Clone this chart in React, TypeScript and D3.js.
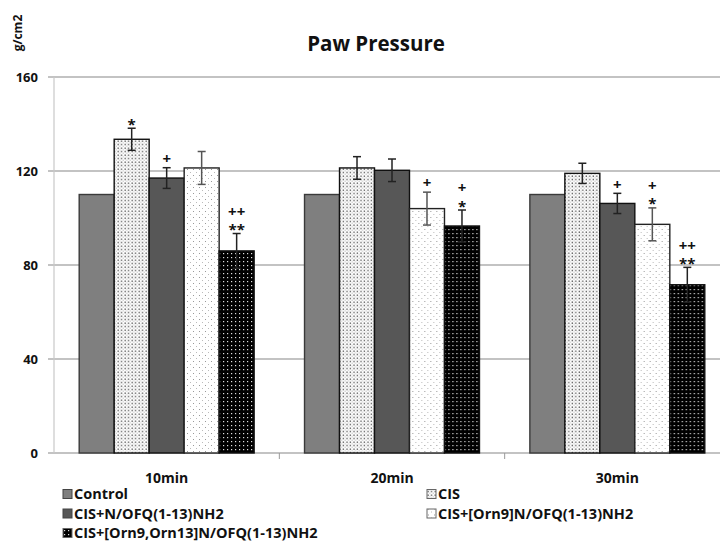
import * as d3 from "d3";

const W = 720;
const H = 541;

const categories = ["10min", "20min", "30min"];
const series = [
  "Control",
  "CIS",
  "CIS+N/OFQ(1-13)NH2",
  "CIS+[Orn9]N/OFQ(1-13)NH2",
  "CIS+[Orn9,Orn13]N/OFQ(1-13)NH2",
];
// values[series][category]
const values = [
  [110, 110, 110],
  [133.5, 121.3, 119],
  [117, 120.3, 106.2],
  [121.3, 104, 97.3],
  [86, 96.6, 71.6],
];
const errors = [
  [0, 0, 0],
  [4.7, 4.8, 4.3],
  [4.4, 4.8, 4.3],
  [7, 7, 7],
  [7.4, 6.8, 7.4],
];
// significance marks, top line first
const marks = [
  [[], [], []],
  [["*"], [], []],
  [["+"], [], ["+"]],
  [[], ["+"], ["+", "*"]],
  [["++", "**"], ["+", "*"], ["++", "**"]],
];
const yTicks = [0, 40, 80, 120, 160];

const FILLS = [
  "#7f7f7f",
  "url(#patCis)",
  "#575757",
  "url(#patOrn9)",
  "url(#patOrn913)",
];
const STROKES = ["#3a3a3a", "#111", "#111", "#222", "#111"];
const FONT = "'Open Sans', 'Liberation Sans', sans-serif";

export default function App() {
  const x0 = d3.scaleBand<string>().domain(categories).range([54, 730]);
  const x1 = d3
    .scaleBand<string>()
    .domain(series)
    .range([0, x0.bandwidth()])
    .paddingInner(0)
    .paddingOuter(0.72);
  const y = d3.scaleLinear().domain([0, 160]).range([453, 77]);

  return (
    <svg
      width={W}
      height={H}
      style={{ position: "absolute", left: 0, top: 0, background: "#fff" }}
    >
      <defs>
        <pattern id="patCis" width="3.5" height="3.5" patternUnits="userSpaceOnUse">
          <rect width="3.5" height="3.5" fill="#fff" />
          <rect x="0.5" y="0.5" width="1.3" height="1.3" fill="#444" />
          <rect x="2.3" y="2.3" width="0.9" height="0.9" fill="#999" />
        </pattern>
        <pattern id="patOrn9" width="6" height="6" patternUnits="userSpaceOnUse">
          <rect width="6" height="6" fill="#fff" />
          <rect x="1" y="1" width="1" height="1" fill="#999" />
          <rect x="4" y="4" width="1" height="1" fill="#bbb" />
        </pattern>
        <pattern id="patOrn913" width="4" height="4" patternUnits="userSpaceOnUse">
          <rect width="4" height="4" fill="#000" />
          <rect x="1" y="1" width="1.2" height="1.2" fill="#ddd" />
        </pattern>
      </defs>

      {/* title + y unit */}
      <text
        x={376}
        y={51}
        textAnchor="middle"
        fontFamily={FONT}
        fontWeight="bold"
        fontSize={20.5}
        fill="#111"
      >
        Paw Pressure
      </text>
      <text
        transform="translate(22,33) rotate(-90)"
        textAnchor="middle"
        fontFamily={FONT}
        fontWeight="bold"
        fontSize={12}
        fill="#111"
      >
        g/cm2
      </text>

      {/* gridlines */}
      {yTicks.map((t) => (
        <g key={t}>
          <line x1={48} x2={W} y1={y(t)} y2={y(t)} stroke="#888" strokeWidth={1.2} />
          <text
            x={38}
            y={y(t)}
            dy="0.35em"
            textAnchor="end"
            fontFamily={FONT}
            fontWeight="bold"
            fontSize={13}
            fill="#111"
          >
            {t}
          </text>
        </g>
      ))}
      <line x1={54} x2={54} y1={y(160)} y2={y(0)} stroke="#c8c8c8" strokeWidth={1.2} />
      {categories.slice(1).map((c) => (
        <line
          key={c}
          x1={x0(c)}
          x2={x0(c)}
          y1={y(0)}
          y2={y(0) + 6}
          stroke="#999"
        />
      ))}

      {/* bars */}
      {categories.map((c, ci) => (
        <g key={c} transform={`translate(${x0(c)},0)`}>
          {series.map((s, si) => {
            const v = values[si][ci];
            const e = errors[si][ci];
            const bx = x1(s) ?? 0;
            const bw = x1.bandwidth();
            const cx = bx + bw / 2;
            const top = e > 0 ? y(v + e) : y(v);
            const ms = marks[si][ci];
            return (
              <g key={s}>
                <rect
                  x={bx}
                  y={y(v)}
                  width={bw}
                  height={y(0) - y(v)}
                  fill={FILLS[si]}
                  stroke={STROKES[si]}
                  strokeWidth={1.4}
                />
                {e > 0 && (
                  <g stroke={si === 3 ? "#555" : "#222"} strokeWidth={1.5}>
                    <line x1={cx} x2={cx} y1={y(v + e)} y2={y(v - e)} />
                    <line x1={cx - 4} x2={cx + 4} y1={y(v + e)} y2={y(v + e)} />
                    <line x1={cx - 4} x2={cx + 4} y1={y(v - e)} y2={y(v - e)} />
                  </g>
                )}
                {ms.map((m, mi) => {
                  const cy = top - 9 - (ms.length - 1 - mi) * 13;
                  return (
                    <text
                      key={mi}
                      x={cx}
                      y={cy}
                      dy={m.includes("*") ? "0.7em" : "0.35em"}
                      textAnchor="middle"
                      fontFamily={FONT}
                      fontWeight="bold"
                      fontSize={15}
                      fill="#111"
                    >
                      {m}
                    </text>
                  );
                })}
              </g>
            );
          })}
          <text
            x={x0.bandwidth() / 2}
            y={483}
            textAnchor="middle"
            fontFamily={FONT}
            fontWeight="bold"
            fontSize={14}
            fill="#111"
          >
            {c}
          </text>
        </g>
      ))}

      {/* legend */}
      {series.map((s, i) => {
        const lx = i % 2 === 0 ? 63 : 427;
        const ly = 494 + Math.floor(i / 2) * 19.5;
        return (
          <g key={s} transform={`translate(${lx},${ly})`}>
            <rect
              x={0}
              y={-4.5}
              width={9}
              height={9}
              fill={FILLS[i]}
              stroke={i === 0 || i === 2 ? "#444" : "#666"}
              strokeWidth={1}
            />
            <text
              x={11}
              y={0}
              dy="0.36em"
              fontFamily={FONT}
              fontWeight="bold"
              fontSize={14.5}
              fill="#111"
            >
              {s}
            </text>
          </g>
        );
      })}
    </svg>
  );
}
